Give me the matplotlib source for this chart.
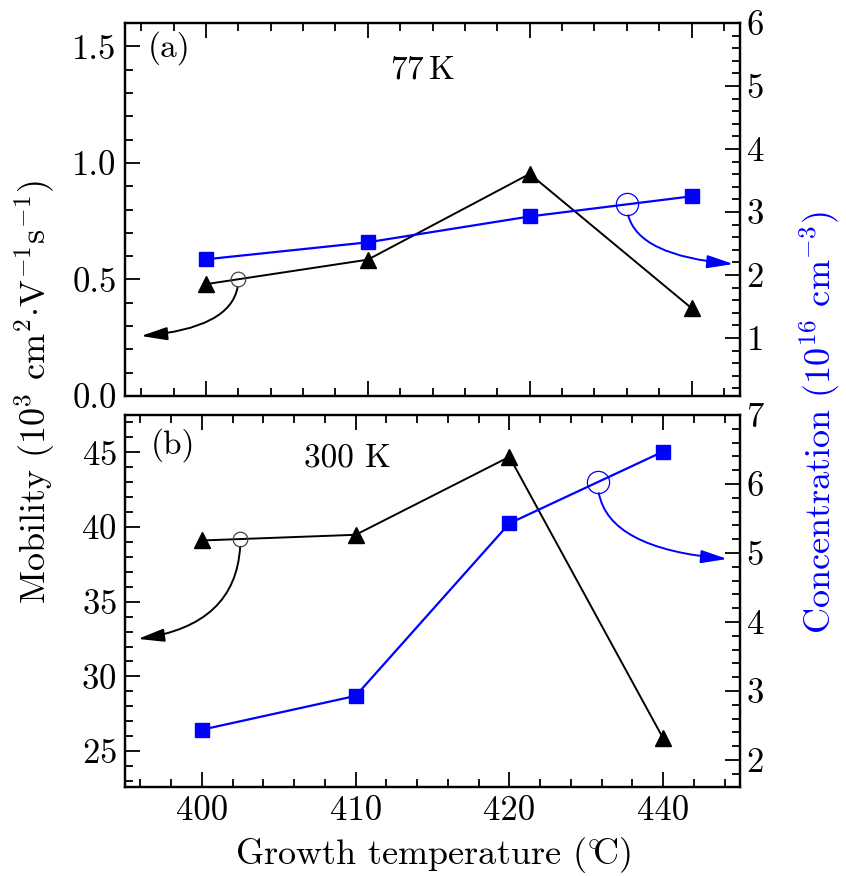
import numpy as np
import matplotlib
matplotlib.use("Agg")
import matplotlib.pyplot as plt
from matplotlib.ticker import MultipleLocator, FixedLocator, FormatStrFormatter

plt.rcParams['font.family'] = ['cmr10', 'DejaVu Serif']
plt.rcParams['mathtext.fontset'] = 'cm'
plt.rcParams['axes.formatter.use_mathtext'] = True
plt.rcParams['axes.unicode_minus'] = False

# ---- data ----
categories = ['400', '410', '420', '440']
mob77 = [0.48, 0.585, 0.953, 0.377]      # 10^3 cm^2 V^-1 s^-1
conc77 = [2.25, 2.52, 2.93, 3.25]        # 10^16 cm^-3
mob300 = [39.1, 39.48, 44.7, 25.85]
conc300 = [2.44, 2.93, 5.43, 6.47]

BLUE = '#0000ff'
FS = 25      # tick labels
FSL = 26     # axis labels
FST = 24     # panel texts

fig = plt.figure(figsize=(8.46, 8.76), dpi=100)
axA = fig.add_axes([0.1478, 0.5479, 0.7270, 0.4258])
axB = fig.add_axes([0.1478, 0.1016, 0.7270, 0.4247])

x = np.arange(len(categories))


def style(ax, ax2, xlim, ylim, ylim2, ymaj, ymin, y2maj, y2min, show_x):
    ax.set_xlim(*xlim)
    ax.set_ylim(*ylim)
    ax2.set_ylim(*ylim2)
    ax.xaxis.set_major_locator(FixedLocator(x))
    ax.xaxis.set_minor_locator(MultipleLocator(0.2))
    ax.set_xticks(x)
    if show_x:
        ax.set_xticklabels(categories)
    else:
        ax.set_xticklabels([])
    ax.yaxis.set_major_locator(MultipleLocator(ymaj))
    ax.yaxis.set_minor_locator(MultipleLocator(ymin))
    ax2.yaxis.set_major_locator(MultipleLocator(y2maj))
    ax2.yaxis.set_minor_locator(MultipleLocator(y2min))
    ax.tick_params(which='both', direction='in', top=True, bottom=True,
                   left=True, right=False, labelsize=FS, width=1.3, pad=6)
    ax.tick_params(which='major', length=11)
    ax.tick_params(which='minor', length=5.5)
    ax2.tick_params(which='both', direction='in', right=True, labelsize=FS,
                    width=1.3, pad=4)
    ax2.tick_params(which='major', length=11)
    ax2.tick_params(which='minor', length=5.5)
    for a in (ax, ax2):
        for s in a.spines.values():
            s.set_linewidth(1.6)


ARROW = '-|>,head_length=1.6,head_width=0.4'

# ---- panel (a) 77 K ----
axA2 = axA.twinx()
axA.plot(x, mob77, '-^', color='black', lw=1.4, ms=11.5, zorder=3)
axA2.plot(x, conc77, '-s', color=BLUE, lw=1.6, ms=9.5, zorder=3)
style(axA, axA2, (-0.5, 3.3), (0, 1.6), (0.08, 6.0), 0.5, 0.1, 1, 0.2, False)
axA.yaxis.set_major_formatter(FormatStrFormatter('%.1f'))
axA.text(0.037, 0.933, '(a)', transform=axA.transAxes, fontsize=FST, va='center', ha='left')
axA.text(0.483, 0.874, r'77$\,$K', transform=axA.transAxes, fontsize=FST, va='center', ha='center')

# indicator circles with arrows (a)
cx = 0.2
cy = np.interp(cx, x, mob77)
axA.plot([cx], [cy], 'o', mfc='none', mec='#444444', mew=0.9, ms=10.5, zorder=4)
axA.annotate('', xy=(0.026, 0.161), xycoords='axes fraction',
             xytext=(cx, cy), textcoords='data',
             arrowprops=dict(arrowstyle=ARROW,
                             connectionstyle='angle3,angleA=90,angleB=5',
                             color='black', lw=1.4, mutation_scale=10,
                             shrinkA=5.5, shrinkB=0))
cx2 = 2.6
cy2 = np.interp(cx2, x, conc77)
axA2.plot([cx2], [cy2], 'o', mfc='none', mec=BLUE, mew=0.9, ms=16, zorder=4)
axA2.annotate('', xy=(0.989, 0.354), xycoords='axes fraction',
              xytext=(cx2, cy2), textcoords='data',
              arrowprops=dict(arrowstyle=ARROW,
                              connectionstyle='angle3,angleA=90,angleB=-5',
                              color=BLUE, lw=1.4, mutation_scale=10,
                              shrinkA=8, shrinkB=0))

# ---- panel (b) 300 K ----
axB2 = axB.twinx()
axB.plot(x, mob300, '-^', color='black', lw=1.4, ms=11.5, zorder=3)
axB2.plot(x, conc300, '-s', color=BLUE, lw=1.6, ms=9.5, zorder=3)
style(axB, axB2, (-0.5, 3.5), (22.6, 47.5), (1.61, 7.0), 5, 1, 1, 0.2, True)
axB.text(0.041, 0.919, '(b)', transform=axB.transAxes, fontsize=FST, va='center', ha='left')
axB.text(0.361, 0.884, '300 K', transform=axB.transAxes, fontsize=FST, va='center', ha='center')

cx3 = 0.25
cy3 = np.interp(cx3, x, mob300)
axB.plot([cx3], [cy3], 'o', mfc='none', mec='#444444', mew=0.9, ms=10.5, zorder=4)
axB.annotate('', xy=(0.021, 0.398), xycoords='axes fraction',
             xytext=(cx3, cy3), textcoords='data',
             arrowprops=dict(arrowstyle=ARROW,
                             connectionstyle='angle3,angleA=90,angleB=8',
                             color='black', lw=1.4, mutation_scale=10,
                             shrinkA=5.5, shrinkB=0))
cx4 = 2.575
cy4 = np.interp(cx4, x, conc300)
axB2.plot([cx4], [cy4], 'o', mfc='none', mec=BLUE, mew=0.9, ms=16, zorder=4)
axB2.annotate('', xy=(0.979, 0.613), xycoords='axes fraction',
              xytext=(cx4, cy4), textcoords='data',
              arrowprops=dict(arrowstyle=ARROW,
                              connectionstyle='angle3,angleA=90,angleB=-5',
                              color=BLUE, lw=1.4, mutation_scale=10,
                              shrinkA=8, shrinkB=0))

axB.set_xlabel(r'Growth temperature (${}^{\circ}\!\!$C)', fontsize=FSL, labelpad=6)

fig.text(0.041, 0.552, r'Mobility (10$^3$ cm$^2$$\cdot$V$^{-1}$s$^{-1}$)',
         rotation=90, fontsize=FSL, ha='center', va='center')
fig.text(0.969, 0.518, r'Concentration (10$^{16}$ cm$^{-3}$)', color=BLUE,
         rotation=90, fontsize=FSL, ha='center', va='center')

fig.savefig('out.png', dpi=100)
